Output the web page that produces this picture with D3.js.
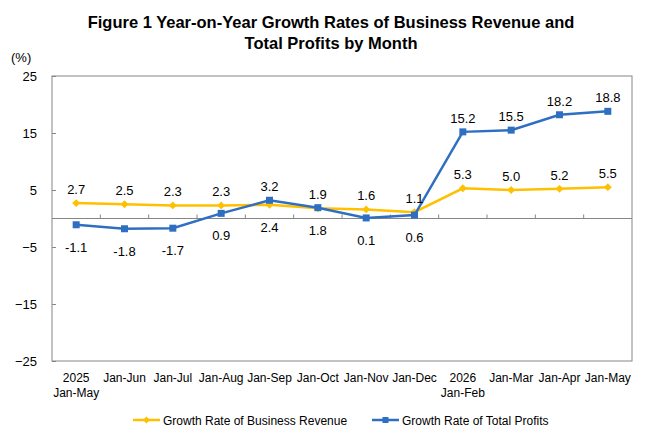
<!DOCTYPE html>
<html>
<head>
<meta charset="utf-8">
<script src="https://cdn.jsdelivr.net/npm/d3@7"></script>
<style>
  body { margin: 0; background: #fff; }
  svg { font-family: "Liberation Sans", Arial, sans-serif; }
</style>
</head>
<body>
<div id="chart"></div>
<script>
// Data
const categories = [
  ["2025", "Jan-May"], ["Jan-Jun"], ["Jan-Jul"], ["Jan-Aug"], ["Jan-Sep"], ["Jan-Oct"],
  ["Jan-Nov"], ["Jan-Dec"], ["2026", "Jan-Feb"], ["Jan-Mar"], ["Jan-Apr"], ["Jan-May"]
]
const revenue = [2.7, 2.5, 2.3, 2.3, 2.4, 1.8, 1.6, 1.1, 5.3, 5.0, 5.2, 5.5]
const profits = [-1.1, -1.8, -1.7, 0.9, 3.2, 1.9, 0.1, 0.6, 15.2, 15.5, 18.2, 18.8]
const yTicks = [25, 15, 5, -5, -15, -25]
const seriesNames = ["Growth Rate of Business Revenue", "Growth Rate of Total Profits"]

const width = 660
const height = 440
const margin = { top: 76, right: 28, bottom: 79, left: 52 }
const innerW = width - margin.left - margin.right
const innerH = height - margin.top - margin.bottom

const yellow = "#FFC000"
const blue = "#2E6FC2"
const axisColor = "#868686"

const svg = d3.select("#chart").append("svg")
  .attr("width", width)
  .attr("height", height)

// Title
const title = svg.append("text")
  .attr("text-anchor", "middle")
  .attr("font-weight", "bold")
  .attr("font-size", "16.5px")
  .attr("fill", "#000")
title.append("tspan").attr("x", 331).attr("y", 28)
  .text("Figure 1 Year-on-Year Growth Rates of Business Revenue and")
title.append("tspan").attr("x", 331).attr("y", 49)
  .text("Total Profits by Month")

svg.append("text")
  .attr("x", 11).attr("y", 62)
  .attr("font-size", "13px")
  .text("(%)")

const g = svg.append("g")
  .attr("transform", `translate(${margin.left},${margin.top})`)

const x = d3.scaleBand()
  .domain(d3.range(categories.length))
  .range([0, innerW])

const y = d3.scaleLinear()
  .domain([-25, 25])
  .range([innerH, 0])

// Plot frame
g.append("rect")
  .attr("x", 0).attr("y", 0)
  .attr("width", innerW).attr("height", innerH)
  .attr("fill", "none")
  .attr("stroke", axisColor)
  .attr("stroke-width", 1)

// Y axis
const yAxis = g.append("g")
  .call(d3.axisLeft(y).tickValues(yTicks).tickSize(-4).tickPadding(15))
yAxis.select(".domain").remove()
yAxis.selectAll("line").attr("stroke", axisColor)
yAxis.selectAll("text")
  .attr("font-size", "13px")
  .attr("fill", "#000")
  .attr("text-anchor", "end")

// Zero line with category ticks
g.append("line")
  .attr("x1", 0).attr("x2", innerW)
  .attr("y1", y(0)).attr("y2", y(0))
  .attr("stroke", axisColor)
g.selectAll(".xtick")
  .data(d3.range(1, categories.length))
  .join("line")
  .attr("x1", d => x(d)).attr("x2", d => x(d))
  .attr("y1", y(0)).attr("y2", y(0) - 4)
  .attr("stroke", axisColor)

// Category labels
const catLabels = g.selectAll(".cat")
  .data(categories)
  .join("text")
  .attr("text-anchor", "middle")
  .attr("font-size", "12px")
  .attr("fill", "#000")
catLabels.each(function (d, i) {
  const t = d3.select(this)
  d.forEach((line, j) => {
    t.append("tspan")
      .attr("x", x(i) + x.bandwidth() / 2)
      .attr("y", innerH + 21 + j * 15)
      .text(line)
  })
})

const cx = i => x(i) + x.bandwidth() / 2
const line = d3.line().x((d, i) => cx(i)).y(d => y(d))

// Revenue series
g.append("path")
  .datum(revenue)
  .attr("d", line)
  .attr("fill", "none")
  .attr("stroke", yellow)
  .attr("stroke-width", 2.5)
g.selectAll(".rev-pt")
  .data(revenue)
  .join("path")
  .attr("d", d3.symbol(d3.symbolDiamond2, 40))
  .attr("transform", (d, i) => `translate(${cx(i)},${y(d)})`)
  .attr("fill", yellow)

// Profits series
g.append("path")
  .datum(profits)
  .attr("d", line)
  .attr("fill", "none")
  .attr("stroke", blue)
  .attr("stroke-width", 2.5)
g.selectAll(".pro-pt")
  .data(profits)
  .join("rect")
  .attr("x", (d, i) => cx(i) - 3.5)
  .attr("y", d => y(d) - 3.5)
  .attr("width", 7).attr("height", 7)
  .attr("fill", blue)

// Data labels: a label goes below its point when the other line is just above it
function addLabels(values, other) {
  g.append("g").selectAll("text")
    .data(values)
    .join("text")
    .attr("x", (d, i) => cx(i))
    .attr("y", (d, i) => (d < other[i] && other[i] - d < 5) ? y(d) + 27 : y(d) - 9)
    .attr("text-anchor", "middle")
    .attr("font-size", "13px")
    .attr("fill", "#000")
    .text(d => d.toFixed(1))
}
addLabels(revenue, profits)
addLabels(profits, revenue)

// Legend
const legend = svg.append("g").attr("transform", "translate(0,420)")
const legendItems = [
  { name: seriesNames[0], color: yellow, x: 133, marker: "diamond" },
  { name: seriesNames[1], color: blue, x: 372, marker: "square" }
]
legendItems.forEach(item => {
  legend.append("line")
    .attr("x1", item.x).attr("x2", item.x + 27)
    .attr("y1", 0).attr("y2", 0)
    .attr("stroke", item.color)
    .attr("stroke-width", 2.5)
  if (item.marker === "diamond") {
    legend.append("path")
      .attr("d", d3.symbol(d3.symbolDiamond2, 30))
      .attr("transform", `translate(${item.x + 13.5},0)`)
      .attr("fill", item.color)
  } else {
    legend.append("rect")
      .attr("x", item.x + 10.5).attr("y", -3)
      .attr("width", 6).attr("height", 6)
      .attr("fill", item.color)
  }
  legend.append("text")
    .attr("x", item.x + 30).attr("y", 4.5)
    .attr("font-size", "12px")
    .attr("fill", "#000")
    .text(item.name)
})
</script>
</body>
</html>
